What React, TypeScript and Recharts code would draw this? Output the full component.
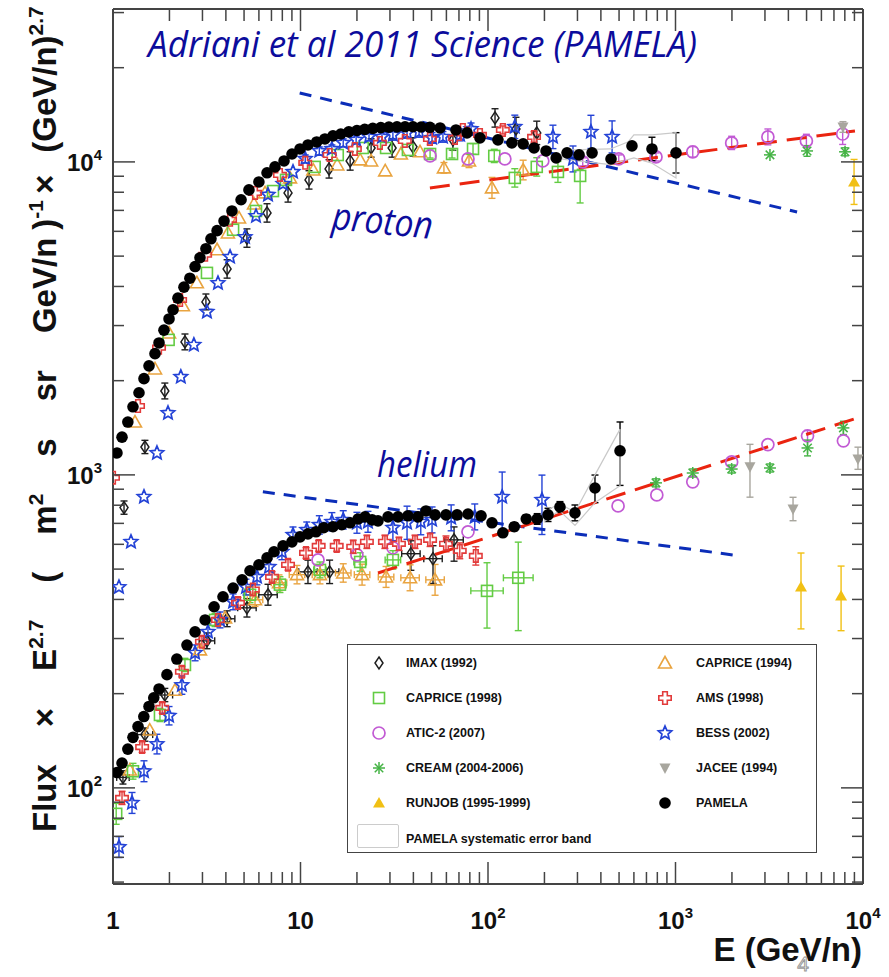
import React from 'react';
import { ScatterChart, Scatter, XAxis, YAxis, ErrorBar, ReferenceLine, Legend } from 'recharts';

// ---------- data: [E (GeV/n), Flux*E^2.7, errDownFactor?, errUpFactor?, xErrFactor?] ----------
const PAMELA_P = [
  [1.05,1175],[1.117,1320],[1.2,1475],[1.278,1650],[1.376,1830],[1.463,2030],[1.556,2230],[1.675,2440],[1.76,2640],[1.87,2900],
  [1.99,3150],[2.09,3370],[2.22,3670],[2.39,3980],[2.57,4250],[2.74,4630],[2.91,4940],[3.13,5280],[3.33,5680],[3.59,6030],
  [3.91,6470],[4.31,6970],[4.82,7570],[5.31,8140],[6.0,8630],[6.63,9230],[7.31,9640],[8.17,10070],[9.01,10600],[9.94,11000],
  [10.96,11330],[12.2,11580],[13.5,11840],[14.9,12110],[16.4,12280],[18.1,12470],[20,12600],[22,12700],[24.3,12800],[26.8,12870],
  [29.6,12920],[32.7,12940],[36.1,12950],[39.8,12950],[44,12930],[49,12900],[55.5,12840],[67.5,12650],[77.3,12380],[90.6,11930],
  [113,11760],[134,11500],[154,11420],[176,11080],[204,10840],[231,10300],[264,10690],[306,10530],[359,10690],[453,10220],
  [586,11250],[749,11000,1.09],[1006,10690,1.16],
];
const PAMELA_HE = [
  [1.05,112],[1.117,120],[1.2,133],[1.278,145],[1.36,157],[1.46,169],[1.556,182],[1.65,194],[1.76,207],[1.94,230],
  [2.19,258],[2.48,286],[2.74,315],[3.1,344],[3.46,379],[3.86,408],[4.37,435],[4.88,462],[5.38,494],[6.0,516],
  [6.63,543],[7.22,568],[8.07,593],[9.0,611],[9.94,634],[10.96,648],[12.1,658],[13.3,678],[14.9,683],[16.6,693],
  [18.4,703],[20.3,723],[22.1,734],[24.1,718],[25.9,713],[29.3,734],[33.1,734],[37.4,740],[42.3,734],[46.7,767],
  [52.2,745],[59.7,745],[68.4,745],[78.2,750],[91.8,740],[105,703,1.02],[120,653,1.02],[138,683,1.03],[160,723,1.03],[183,723,1.04],
  [209,745,1.05],[242,790,1.04],[291,756,1.06],[372,908,1.114,1.1],[506,1194,1.29,1.236],
];
const BAND_P = [
  [250,10900],[450,11000],[560,11600],[600,12200],[750,12200],[1006,12400],
  [1006,8890],[750,9900],[600,10300],[450,9800],[250,10200],[250,10900],
];
const BAND_HE = [
  [200,760],[240,810],[291,760],[372,1000],[506,1400],
  [506,923],[372,815],[291,690],[240,770],[200,710],[200,760],
];
const IMAX_P = [
  [1.145,786,1.05],[1.48,1228,1.05],[1.89,1854,1.06],[2.42,2660,1.06],[3.13,3570,1.06],[4.06,4550,1.07],[5.18,5710,1.07],
  [6.63,6870,1.07],[8.58,7960,1.07],[11.1,8760,1.07],[14.2,9500,1.07],[18.4,10070,1.07],[23.8,11080,1.07],[30.8,11080,1.07],
  [39.8,11170,1.07],[65,11760,1.08],[109,13820,1.07],[141,12740,1.09],[182,12380,1.09],
];
const IMAX_HE = [
  [1.13,108,1.05,1.05,1.08],[1.48,148,1.05,1.05,1.1],[1.89,198,1.05,1.05,1.1],[3.17,295,1.06,1.06,1.1],[4.06,347,1.06,1.06,1.1],
  [5.18,376,1.07,1.07,1.12],[6.71,414,1.08,1.08,1.12],[10.96,490,1.09,1.09,1.12],[14.3,490,1.09,1.09,1.12],
  [38.8,560,1.13,1.1,1.12],[50.9,540,1.2,1.1,1.12],[65.9,620,1.17,1.1,1.12],
];
const CAPRICE94_P = [
  [1.31,1475],[1.675,2180],[1.99,2840],[2.36,3470],[2.8,4110],[3.59,5240],[4.1,5930],[4.7,6620],[5.65,7340],[6.47,7960],
  [8.79,8890],[11.7,9420],[15.7,9780],[20.8,10150],[23.8,10070],[28.3,9360],[34.3,10600],[43.4,10770],[58.2,9570,1.04],
  [79.2,10070,1.05],[105,8260,1.08],[154,9420,1.075],
];
const CAPRICE94_HE = [
  [1.23,114],[1.57,153],[2.14,205],[2.91,276],[3.96,349],[5.72,399,1.05,1.05,1.1],[7.68,452,1.06,1.06,1.1],
  [9.58,480,1.07,1.07,1.1],[12.7,480,1.07,1.07,1.1],[16.9,486,1.07,1.07,1.1],[21.3,480,1.08,1.08,1.1],
  [28.6,472,1.08,1.08,1.1],[38.4,469,1.1,1.1,1.12],[52.2,462,1.12,1.12,1.12],
];
const CAPRICE98_P = [
  [1.98,2700],[3.17,4420],[4.37,6070],[5.79,6970],[7.13,8070],[8.37,8760],[11.9,9640],[15.8,10520],[21.5,11080],[28.6,11080],
  [37.4,10920],[49.1,10600,1.03],[64.3,10600,1.03],[83.2,11000,1.04],[108,10450,1.05],[139,8890,1.07],[182,9640,1.07],
  [236,9290,1.08],[310,9020,1.22,1.05],
];
const CAPRICE98_HE = [
  [1.04,82.6,1.08],[1.278,113,1.06],[1.78,171,1.05],[2.42,247,1.05],[3.5,344,1.05],[5.38,414,1.06,1.06,1.08],
  [7.77,446,1.06,1.06,1.08],[12.7,497,1.06,1.06,1.08],[20.8,527,1.07,1.07,1.08],[31.1,535,1.07,1.07,1.1],
  [98.8,426,1.315,1.23,1.22],[145,469,1.475,1.3,1.2],
];
const AMS_P = [
  [1.0,980],[1.36,1660],[1.76,2550],[2.28,3620],[3.1,5050],[4.21,6530],[5.72,7960],[7.77,9090],[10.6,9930],[14.3,10520],
  [19.5,11000],[26.5,11500],[36,11670],[49,11840],[66.6,11930],[73.4,12650],[90.6,12200],[120,12650,1.03],[176,12020,1.04],
];
const AMS_HE = [
  [1.117,92.9,1.05],[1.43,135,1.04],[1.83,180,1.04],[2.33,235,1.04],[2.98,293,1.04],[3.63,344,1.04],[4.64,390,1.04],
  [5.57,430,1.04],[7.05,472,1.04],[8.58,516,1.04],[10.7,563,1.04],[12.5,593,1.04],[15.6,593,1.04],[19.1,589,1.05],
  [22.6,611,1.05],[28.2,611,1.05],[33.5,602,1.05],[40.8,611,1.05],[49.1,620,1.05],[59.7,602,1.06],[70.7,572,1.06],[86.1,551,1.07],
];
const ATIC_P = [
  [49.1,10450],[78.2,10220],[123,10220],[196,10070],[320,10000,1.03],[498,10220,1.03],[787,10370,1.03],
  [1236,10770,1.04],[1993,11500,1.05],[3110,12020,1.06],[4990,11670,1.05],[7790,12280,1.08],
];
const ATIC_HE = [
  [12.4,535],[20,555],[31.1,585],[78.2,658],[494,796],[795,863],[1236,950],[1993,1100],[3110,1250],[5060,1333,1.04],[7860,1285],
];
const BESS_P = [
  [1.076,438],[1.247,611],[1.463,851],[1.716,1175],[1.965,1577],[2.3,2056],[2.7,2603],[3.17,3320],[3.63,4100],[4.21,4970],
  [5.06,5750],[5.79,6710],[6.71,7850],[8.07,8510],[9.12,9290],[10.6,10220,1.03],[12.6,10840,1.03],[14.7,11000,1.03],
  [16.9,11500,1.03],[19.8,11760,1.03],[23.2,12020,1.03],[27.2,12020,1.03],[31.1,12200,1.04],[37,12380,1.04],[42.9,12470,1.04],
  [50.3,11930,1.04],[57.5,12020,1.04],[71,12200,1.045],[81.2,12740,1.045],[139,12940,1.09],[222,12020,1.09],[284,10220,1.1],
  [354,12470,1.13],[459,12020,1.125],
];
const BESS_HE = [
  [1.076,64.7,1.08],[1.263,89.5,1.08],[1.463,113,1.08],[1.716,138,1.075],[1.99,170,1.07],[2.33,213,1.07],[2.74,270,1.06],
  [3.21,315,1.06],[3.72,344,1.06],[4.37,393,1.06],[5.12,438,1.06],[5.86,472,1.06],[6.79,508,1.06],[7.96,568,1.06],
  [9.12,643,1.06],[10.8,667,1.06],[12.6,692,1.07],[14.7,708,1.07],[16.9,718,1.07],[20,703,1.08],[22.9,708,1.08],
  [31.1,678,1.1],[37,703,1.13],[43.8,708,1.1],[50.3,718,1.1],[63.6,729,1.1],[85,734,1.1],[119,851,1.32,1.2],[194,832,1.29,1.2],
];
const CREAM_P = [[3190,10530],[5030,10840,1.04],[8020,10770,1.03]];
const CREAM_HE = [[787,943,1.03],[1236,1014,1.03],[1993,1044,1.03],[3190,1052,1.03],[5060,1219,1.06],[7860,1413,1.05]];
const JACEE_P = [[7820,12930,1.04]];
const JACEE_HE = [[2496,1061,1.25,1.18],[4235,778,1.09],[9400,1125,1.08,1.09]];
const RUNJOB_P = [[8960,8630,1.18]];
const RUNJOB_HE = [[4670,438,1.36,1.285],[7640,410,1.29,1.247]];

// fit lines (endpoints)
const PROTON_BLUE = [[9.9,16600],[4450,6920]];
const PROTON_RED = [[49,8260],[9060,12560]];
const HELIUM_BLUE = [[6.3,883],[2208,551]];
const HELIUM_RED = [[25.9,486],[9000,1510]];

const Y_MAJOR = [100,1000,10000];
const X_TICKS = [1,2,3,4,5,6,7,8,9,10,20,30,40,50,60,70,80,90,100,200,300,400,500,600,700,800,900,1000,2000,3000,4000,5000,6000,7000,8000,9000,10000];
const Y_TICKS = [50,60,70,80,90,100,200,300,400,500,600,700,800,900,1000,2000,3000,4000,5000,6000,7000,8000,9000,10000,20000,30000];

// ---------- helpers ----------
type Row = number[];
function toPts(rows: Row[]) {
  return rows.map((r) => {
    const [e, f, dn, up, ex] = r;
    const p: any = { x: e, y: f };
    if (dn) { const u = up || dn; p.ey = [f - f / dn, f * u - f]; }
    if (ex) p.ex = [e - e / ex, e * ex - e];
    return p;
  });
}

const C = {
  imax: '#1e1e1e', c94: '#e9a440', c98: '#63cc43', ams: '#e23b3b', atic: '#c25ad4', bess: '#2342d6',
  cream: '#45b345', jacee: '#a8a69e', runjob: '#f1c014', pamela: '#000000', blue: '#0b2db8', red: '#ea2410', axis: '#444',
};

function drawShape(kind: string, color: string, cx: number, cy: number) {
  switch (kind) {
    case 'diamond':
      return <polygon points={`${cx},${cy - 6} ${cx + 4},${cy} ${cx},${cy + 6} ${cx - 4},${cy}`} fill="none" stroke={color} strokeWidth={1.5} />;
    case 'square':
      return <rect x={cx - 5.5} y={cy - 5.5} width={11} height={11} fill="none" stroke={color} strokeWidth={1.6} />;
    case 'tri':
      return <polygon points={`${cx},${cy - 6.5} ${cx + 6.5},${cy + 5} ${cx - 6.5},${cy + 5}`} fill="none" stroke={color} strokeWidth={1.6} />;
    case 'cross': {
      const a = 2.3, r = 6.2;
      return <path d={`M${cx - a},${cy - r}H${cx + a}V${cy - a}H${cx + r}V${cy + a}H${cx + a}V${cy + r}H${cx - a}V${cy + a}H${cx - r}V${cy - a}H${cx - a}Z`} fill="none" stroke={color} strokeWidth={1.6} />;
    }
    case 'circle':
      return <circle cx={cx} cy={cy} r={6} fill="none" stroke={color} strokeWidth={1.7} />;
    case 'star': {
      const pts: string[] = [];
      for (let i = 0; i < 10; i++) {
        const rr = i % 2 === 0 ? 7 : 3.2;
        const ang = -Math.PI / 2 + (i * Math.PI) / 5;
        pts.push(`${cx + rr * Math.cos(ang)},${cy + rr * Math.sin(ang)}`);
      }
      return <polygon points={pts.join(' ')} fill="none" stroke={color} strokeWidth={1.7} />;
    }
    case 'aster': {
      const r = 6;
      const d = r * 0.707;
      return (
        <g stroke={color} strokeWidth={1.5}>
          <line x1={cx} y1={cy - r} x2={cx} y2={cy + r} />
          <line x1={cx - r} y1={cy} x2={cx + r} y2={cy} />
          <line x1={cx - d} y1={cy - d} x2={cx + d} y2={cy + d} />
          <line x1={cx - d} y1={cy + d} x2={cx + d} y2={cy - d} />
        </g>
      );
    }
    case 'dtri':
      return <polygon points={`${cx - 5.5},${cy - 4.5} ${cx + 5.5},${cy - 4.5} ${cx},${cy + 6}`} fill={color} stroke="none" />;
    case 'utri':
      return <polygon points={`${cx},${cy - 6} ${cx + 6},${cy + 4.5} ${cx - 6},${cy + 4.5}`} fill={color} stroke="none" />;
    case 'dot':
      return <circle cx={cx} cy={cy} r={5.8} fill={color} />;
    default:
      return <g />;
  }
}

const shapeOf = (kind: string, color: string) => (props: any) => {
  const { cx, cy } = props;
  if (cx == null || cy == null || isNaN(cx) || isNaN(cy)) return <g />;
  return drawShape(kind, color, cx, cy);
};

const emptyShape = () => <g />;

function expOf(v: number) {
  return Math.round(Math.log10(v));
}
function isMajor(v: number) {
  const l = Math.log10(v);
  return Math.abs(l - Math.round(l)) < 1e-6;
}

const LABEL_FONT = "'Liberation Sans', Arial, Helvetica, sans-serif";

const BottomTick = (props: any) => {
  const { x, y, payload } = props;
  const v = payload.value;
  const maj = isMajor(v);
  const len = maj ? 22 : 12;
  const e = expOf(v);
  return (
    <g>
      <line x1={x} y1={y} x2={x} y2={y - len} stroke={C.axis} strokeWidth={1.5} />
      {maj && (
        <text x={x} y={y + 45} textAnchor="middle" fontFamily={LABEL_FONT} fontWeight="bold" fontSize={24} fill="#111">
          {e <= 1 ? String(v) : '10'}
          {e > 1 && <tspan dy={-11} fontSize={15}>{e}</tspan>}
        </text>
      )}
    </g>
  );
};
const TopTick = (props: any) => {
  const { x, y, payload } = props;
  const len = isMajor(payload.value) ? 22 : 12;
  return <line x1={x} y1={y} x2={x} y2={y + len} stroke={C.axis} strokeWidth={1.5} />;
};
const LeftTick = (props: any) => {
  const { x, y, payload } = props;
  const v = payload.value;
  const maj = isMajor(v);
  const len = maj ? 22 : 11;
  return (
    <g>
      <line x1={x} y1={y} x2={x + len} y2={y} stroke={C.axis} strokeWidth={1.5} />
      {maj && Y_MAJOR.includes(v) && (
        <text x={x - 11} y={y + 9} textAnchor="end" fontFamily={LABEL_FONT} fontWeight="bold" fontSize={24} fill="#111">
          10<tspan dy={-11} fontSize={15}>{expOf(v)}</tspan>
        </text>
      )}
    </g>
  );
};
const RightTick = (props: any) => {
  const { x, y, payload } = props;
  const len = isMajor(payload.value) ? 22 : 11;
  return <line x1={x} y1={y} x2={x - len} y2={y} stroke={C.axis} strokeWidth={1.5} />;
};

const LEGEND_LEFT = [
  { name: 'IMAX (1992)', kind: 'diamond', color: C.imax },
  { name: 'CAPRICE (1998)', kind: 'square', color: C.c98 },
  { name: 'ATIC-2 (2007)', kind: 'circle', color: C.atic },
  { name: 'CREAM (2004-2006)', kind: 'aster', color: C.cream },
  { name: 'RUNJOB (1995-1999)', kind: 'utri', color: C.runjob },
];
const LEGEND_RIGHT = [
  { name: 'CAPRICE (1994)', kind: 'tri', color: C.c94 },
  { name: 'AMS (1998)', kind: 'cross', color: C.ams },
  { name: 'BESS (2002)', kind: 'star', color: C.bess },
  { name: 'JACEE (1994)', kind: 'dtri', color: C.jacee },
  { name: 'PAMELA', kind: 'dot', color: C.pamela },
];

const LegendBox = () => {
  const rowY = (i: number) => 18 + i * 35;
  const item = (it: any, i: number, sx: number, tx: number) => (
    <React.Fragment key={it.name}>
      <svg width={18} height={18} style={{ position: 'absolute', left: sx - 9, top: rowY(i) - 9 }}>
        {drawShape(it.kind, it.color, 9, 9)}
      </svg>
      <div style={{ position: 'absolute', left: tx, top: rowY(i) - 8, lineHeight: '16px', whiteSpace: 'nowrap' }}>{it.name}</div>
    </React.Fragment>
  );
  return (
    <div style={{ position: 'relative', width: 470, height: 209, border: '1.5px solid #444', boxSizing: 'border-box', background: '#fff', fontFamily: LABEL_FONT, fontWeight: 'bold', fontSize: 12.5, color: '#111' }}>
      {LEGEND_LEFT.map((it, i) => item(it, i, 31, 58))}
      {LEGEND_RIGHT.map((it, i) => item(it, i, 317, 348))}
      <div style={{ position: 'absolute', left: 9, top: 179, width: 42, height: 24, border: '1px solid #ccc', borderRadius: 2, boxSizing: 'border-box' }} />
      <div style={{ position: 'absolute', left: 58, top: rowY(5) - 8 + 1, lineHeight: '16px', whiteSpace: 'nowrap' }}>PAMELA systematic error band</div>
    </div>
  );
};

const series = [
  { key: 'imaxP', rows: IMAX_P, kind: 'diamond', color: C.imax },
  { key: 'imaxHe', rows: IMAX_HE, kind: 'diamond', color: C.imax },
  { key: 'c94P', rows: CAPRICE94_P, kind: 'tri', color: C.c94 },
  { key: 'c94He', rows: CAPRICE94_HE, kind: 'tri', color: C.c94 },
  { key: 'c98P', rows: CAPRICE98_P, kind: 'square', color: C.c98 },
  { key: 'c98He', rows: CAPRICE98_HE, kind: 'square', color: C.c98 },
  { key: 'atP', rows: ATIC_P, kind: 'circle', color: C.atic },
  { key: 'atHe', rows: ATIC_HE, kind: 'circle', color: C.atic },
  { key: 'crP', rows: CREAM_P, kind: 'aster', color: C.cream },
  { key: 'crHe', rows: CREAM_HE, kind: 'aster', color: C.cream },
  { key: 'jaP', rows: JACEE_P, kind: 'dtri', color: C.jacee },
  { key: 'jaHe', rows: JACEE_HE, kind: 'dtri', color: C.jacee },
  { key: 'rjP', rows: RUNJOB_P, kind: 'utri', color: C.runjob },
  { key: 'rjHe', rows: RUNJOB_HE, kind: 'utri', color: C.runjob },
  { key: 'bessP', rows: BESS_P, kind: 'star', color: C.bess },
  { key: 'bessHe', rows: BESS_HE, kind: 'star', color: C.bess },
  { key: 'amsP', rows: AMS_P, kind: 'cross', color: C.ams },
  { key: 'amsHe', rows: AMS_HE, kind: 'cross', color: C.ams },
  { key: 'pamP', rows: PAMELA_P, kind: 'dot', color: C.pamela },
  { key: 'pamHe', rows: PAMELA_HE, kind: 'dot', color: C.pamela },
];

const TITLE_FONT = "'Liberation Sans Narrow', 'Open Sans', 'Noto Sans', sans-serif";
const DOMAIN_X = [1, 10000];
const DOMAIN_Y = [49.3, 30800];

export default function App() {
  const toSeg = (l: number[][]) => l.map(([x, y]) => ({ x, y }));
  const G = 37;
  return (
    <div style={{ position: 'absolute', left: 0, top: 0, width: 889, height: 977, background: '#fff', overflow: 'hidden' }}>
      <ScatterChart width={889} height={977} margin={{ top: 8, right: 25, bottom: 53, left: 73 }}>
        <XAxis xAxisId="b" dataKey="x" type="number" scale="log" domain={DOMAIN_X} allowDataOverflow orientation="bottom" height={40}
          ticks={X_TICKS} interval={0} tick={<BottomTick />} tickLine={false} tickSize={0} tickMargin={0}
          axisLine={{ stroke: C.axis, strokeWidth: 2 }} />
        <XAxis xAxisId="t" dataKey="x" type="number" scale="log" domain={DOMAIN_X} allowDataOverflow orientation="top" height={1}
          ticks={X_TICKS} interval={0} tick={<TopTick />} tickLine={false} tickSize={0} tickMargin={0}
          axisLine={{ stroke: C.axis, strokeWidth: 2 }} />
        <YAxis yAxisId="l" dataKey="y" type="number" scale="log" domain={DOMAIN_Y} allowDataOverflow orientation="left" width={40}
          ticks={Y_TICKS} interval={0} tick={<LeftTick />} tickLine={false} tickSize={0} tickMargin={0}
          axisLine={{ stroke: C.axis, strokeWidth: 2 }} />
        <YAxis yAxisId="r" dataKey="y" type="number" scale="log" domain={DOMAIN_Y} allowDataOverflow orientation="right" width={1}
          ticks={Y_TICKS} interval={0} tick={<RightTick />} tickLine={false} tickSize={0} tickMargin={0}
          axisLine={{ stroke: C.axis, strokeWidth: 2 }} />

        <Scatter xAxisId="b" yAxisId="l" data={toPts(BAND_P)} shape={emptyShape} line={{ stroke: '#c9c9c9', strokeWidth: 1.2 }} lineType="joint" isAnimationActive={false} legendType="none" />
        <Scatter xAxisId="b" yAxisId="l" data={toPts(BAND_HE)} shape={emptyShape} line={{ stroke: '#c9c9c9', strokeWidth: 1.2 }} lineType="joint" isAnimationActive={false} legendType="none" />

        {series.map((s) => {
          const pts = toPts(s.rows);
          const hasY = pts.some((p: any) => p.ey);
          const hasX = pts.some((p: any) => p.ex);
          return (
            <Scatter key={s.key} xAxisId="b" yAxisId="l" data={pts} shape={shapeOf(s.kind, s.color)} isAnimationActive={false}>
              {hasY && <ErrorBar dataKey="ey" direction="y" width={3.5} stroke={s.color} strokeWidth={1.4} />}
              {hasX && <ErrorBar dataKey="ex" direction="x" width={3.5} stroke={s.color} strokeWidth={1.4} />}
            </Scatter>
          );
        })}

        <ReferenceLine xAxisId="b" yAxisId="l" segment={toSeg(PROTON_BLUE)} stroke={C.blue} strokeWidth={3} strokeDasharray="12 9" ifOverflow="visible" />
        <ReferenceLine xAxisId="b" yAxisId="l" segment={toSeg(HELIUM_BLUE)} stroke={C.blue} strokeWidth={3} strokeDasharray="12 9" ifOverflow="visible" />
        <ReferenceLine xAxisId="b" yAxisId="l" segment={toSeg(PROTON_RED)} stroke={C.red} strokeWidth={3} strokeDasharray="20 10" ifOverflow="visible" />
        <ReferenceLine xAxisId="b" yAxisId="l" segment={toSeg(HELIUM_RED)} stroke={C.red} strokeWidth={3} strokeDasharray="20 10" ifOverflow="visible" />

        <Legend layout="horizontal" verticalAlign="middle" align="center" width={470} height={209}
          wrapperStyle={{ position: 'absolute', left: 347, top: 644, width: 470, height: 209, margin: 0, padding: 0 }}
          content={() => <LegendBox />} />
      </ScatterChart>

      <svg width={889} height={977} style={{ position: 'absolute', left: 0, top: 0, pointerEvents: 'none' }}>
        <text x={148} y={57} fontFamily={TITLE_FONT} fontStyle="italic" fontSize={36} fill="#0c0c9c" textLength={549} lengthAdjust="spacingAndGlyphs">
          Adriani et al 2011 Science (PAMELA)
        </text>
        <text transform="translate(331,229) rotate(5.7)" fontFamily={TITLE_FONT} fontStyle="italic" fontSize={38} fill="#0c0c9c" textLength={101} lengthAdjust="spacingAndGlyphs">
          proton
        </text>
        <text x={377} y={477} fontFamily={TITLE_FONT} fontStyle="italic" fontSize={37} fill="#0c0c9c" textLength={100} lengthAdjust="spacingAndGlyphs">
          helium
        </text>
        <text transform="translate(56,832) rotate(-90)" fontFamily={LABEL_FONT} fontWeight="bold" fontSize={33} fill="#111">
          <tspan>Flux</tspan>
          <tspan dx={G}>×</tspan>
          <tspan dx={G}>E</tspan>
          <tspan dy={-13} fontSize={21}>2.7</tspan>
          <tspan dy={13} dx={G}>(</tspan>
          <tspan dx={G}>m</tspan>
          <tspan dy={-13} fontSize={21}>2</tspan>
          <tspan dy={13} dx={G}>s</tspan>
          <tspan dx={G}>sr</tspan>
          <tspan dx={G}>GeV/n</tspan>
          <tspan dx={8}>)</tspan>
          <tspan dy={-13} fontSize={21}>-1</tspan>
          <tspan dy={13} dx={6}>×</tspan>
          <tspan dx={22}>(GeV/n)</tspan>
          <tspan dy={-13} fontSize={21}>2.7</tspan>
        </text>
        <text x={862} y={961} textAnchor="end" fontFamily={LABEL_FONT} fontWeight="bold" fontSize={33} fill="#111">E (GeV/n)</text>
        <text x={803} y={971} textAnchor="middle" fontFamily={LABEL_FONT} fontSize={21} fill="none" stroke="#999" strokeWidth={1}>4</text>
      </svg>
    </div>
  );
}
